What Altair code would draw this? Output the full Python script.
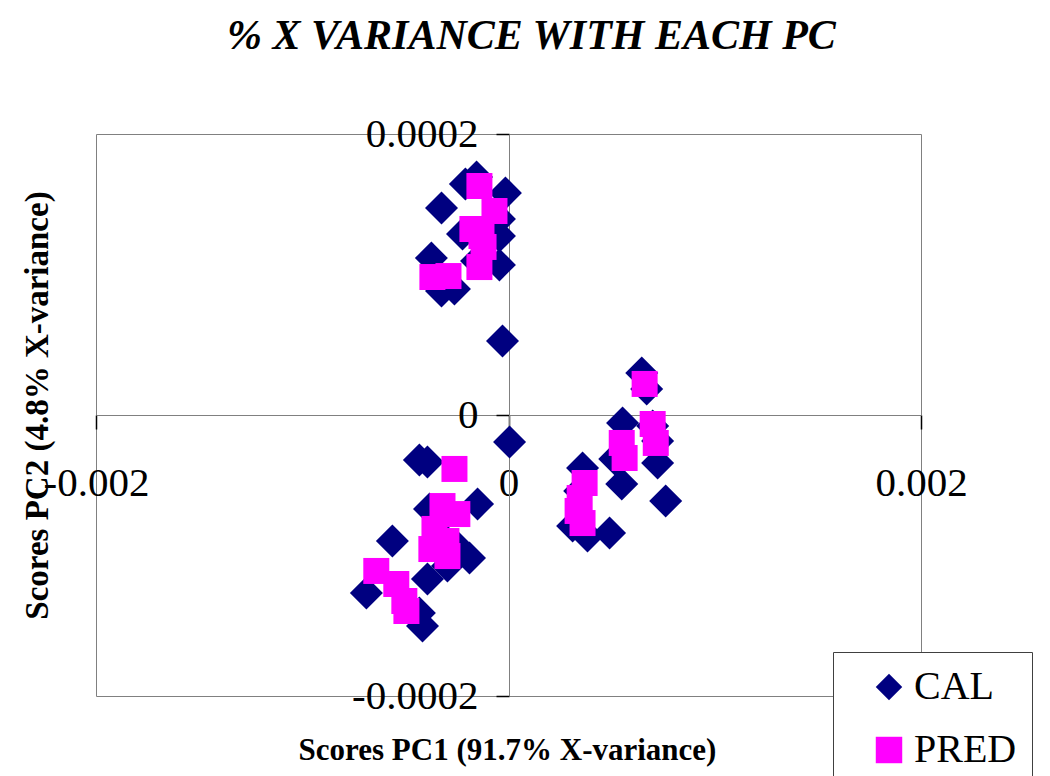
import altair as alt
import pandas as pd

# PCA scores, in units of 1e-4
cal_pc1 = [
    -1.55, -2.09, -3.25, -0.15, -0.44, -2.23, -0.44, -3.74, -0.44, -1.55, -3.25, -2.62, -0.29, 0.05,
    -4.32, -3.93, -1.50, -3.83, -3.35, -5.63, -1.89, -2.52, -2.96, -3.93, -6.89, -4.32, -4.17,
    6.46, 6.70, 5.53, 6.99, 7.23, 5.15, 7.23, 3.59, 5.49, 7.62, 3.45, 3.11, 3.83, 4.90,
]
cal_pc2 = [
    1.694, 1.644, 1.473, 1.580, 1.395, 1.288, 1.274, 1.117, 1.068, 1.096, 0.883, 0.897, 0.527, -0.192,
    -0.320, -0.335, -0.633, -0.669, -0.754, -0.897, -1.018, -0.932, -1.075, -1.167, -1.267, -1.409, -1.502,
    0.299, 0.185, -0.057, -0.078, -0.185, -0.313, -0.342, -0.377, -0.491, -0.612, -0.541, -0.790, -0.861, -0.840,
]
pred_pc1 = [
    -1.41, -0.68, -1.75, -1.31, -1.21, -1.41, -3.69, -2.91,
    -2.62, -3.20, -2.48, -3.59, -3.01, -3.74, -2.96, -6.41, -5.44, -5.05, -4.95,
    6.60, 6.99, 7.14, 5.49, 5.63, 3.69, 3.45, 3.35, 3.59,
]
pred_pc2 = [
    1.630, 1.452, 1.324, 1.274, 1.196, 1.053, 0.982, 0.989,
    -0.384, -0.648, -0.705, -0.811, -0.897, -0.954, -1.004, -1.110, -1.203, -1.324, -1.395,
    0.221, -0.064, -0.199, -0.199, -0.306, -0.484, -0.591, -0.683, -0.769,
]
UNIT = 1e-4

series_names = ["CAL", "PRED"]
series_colors = ["#000080", "#FF00FF"]
series_shapes = ["diamond", "square"]

x_ticks = [-0.002, 0, 0.002]
y_ticks = [-0.0002, 0, 0.0002]

cal = pd.DataFrame({
    "pc1": [v * UNIT for v in cal_pc1],
    "pc2": [v * UNIT for v in cal_pc2],
    "series": "CAL",
})
pred = pd.DataFrame({
    "pc1": [v * UNIT for v in pred_pc1],
    "pc2": [v * UNIT for v in pred_pc2],
    "series": "PRED",
})

SERIF = "'Liberation Serif', 'Times New Roman', 'DejaVu Serif', serif"
GREY = "#808080"
W, H = 825, 562
PAD = {"left": 96, "top": 134, "right": 129, "bottom": 80}

x_enc = alt.X(
    "pc1:Q",
    scale=alt.Scale(domain=[x_ticks[0], x_ticks[-1]], nice=False, zero=False),
    axis=alt.Axis(
        values=x_ticks, labelExpr="'' + datum.value", offset=-281,
        domainColor=GREY, domainWidth=1, tickColor="black", tickWidth=1.5, tickSize=14,
        labelPadding=34, labelFont=SERIF, labelFontSize=41, labelColor="black",
        labelFlush=False, labelOverlap=False, grid=False,
        title="Scores PC1 (91.7% X-variance)", titleFont=SERIF, titleFontSize=31,
        titleFontWeight="bold", titleColor="black", titleX=411, titleY=344,
        titleBaseline="alphabetic", titleAlign="center",
    ),
)
y_enc = alt.Y(
    "pc2:Q",
    scale=alt.Scale(domain=[y_ticks[0], y_ticks[-1]], nice=False, zero=False),
    axis=alt.Axis(
        values=y_ticks, labelExpr="'' + datum.value", offset=-413,
        domainColor=GREY, domainWidth=1, tickColor="black", tickWidth=1.5, tickSize=13,
        labelPadding=18, labelFont=SERIF, labelFontSize=41, labelColor="black",
        labelFlush=False, labelOverlap=False, grid=False,
        title="Scores PC2 (4.8% X-variance)", titleFont=SERIF, titleFontSize=33,
        titleFontWeight="bold", titleColor="black", titleX=-462, titleY=271,
        titleAngle=270, titleBaseline="alphabetic", titleAlign="center",
    ),
)

legend = alt.Legend(
    title=None, orient="none", legendX=737, legendY=518, padding=15,
    symbolOffset=21, labelOffset=5, rowPadding=23,
    labelFont=SERIF, labelFontSize=40, labelColor="black",
    symbolSize=700, symbolStrokeWidth=0, strokeColor="#404040", fillColor="white",
    labelExpr="datum.label + '\u00a0\u00a0\u00a0\u00a0\u00a0\u00a0\u00a0\u00a0'",
)
color_enc = alt.Color("series:N", scale=alt.Scale(domain=series_names, range=series_colors), legend=legend)
shape_enc = alt.Shape("series:N", scale=alt.Scale(domain=series_names, range=series_shapes), legend=legend)

cal_layer = alt.Chart(cal).mark_point(filled=True, size=1089, opacity=1, strokeWidth=0).encode(
    x=x_enc, y=y_enc, color=color_enc, shape=shape_enc
)
pred_layer = alt.Chart(pred).mark_point(filled=True, size=676, opacity=1, strokeWidth=0).encode(
    x=x_enc, y=y_enc, color=color_enc, shape=shape_enc
)

chart = (
    alt.layer(cal_layer, pred_layer)
    .properties(
        width=W, height=H, padding=PAD,
        autosize=alt.AutoSizeParams(type="none"),
        title=alt.Title(
            "% X VARIANCE WITH EACH PC", font=SERIF, fontSize=42, fontStyle="italic",
            fontWeight="bold", color="black", anchor="middle", dx=23, offset=55,
        ),
    )
    .configure(background="white")
    .configure_view(stroke=GREY, strokeWidth=1)
)

chart.save("out.html", embed_options={"renderer": "svg", "actions": False})
